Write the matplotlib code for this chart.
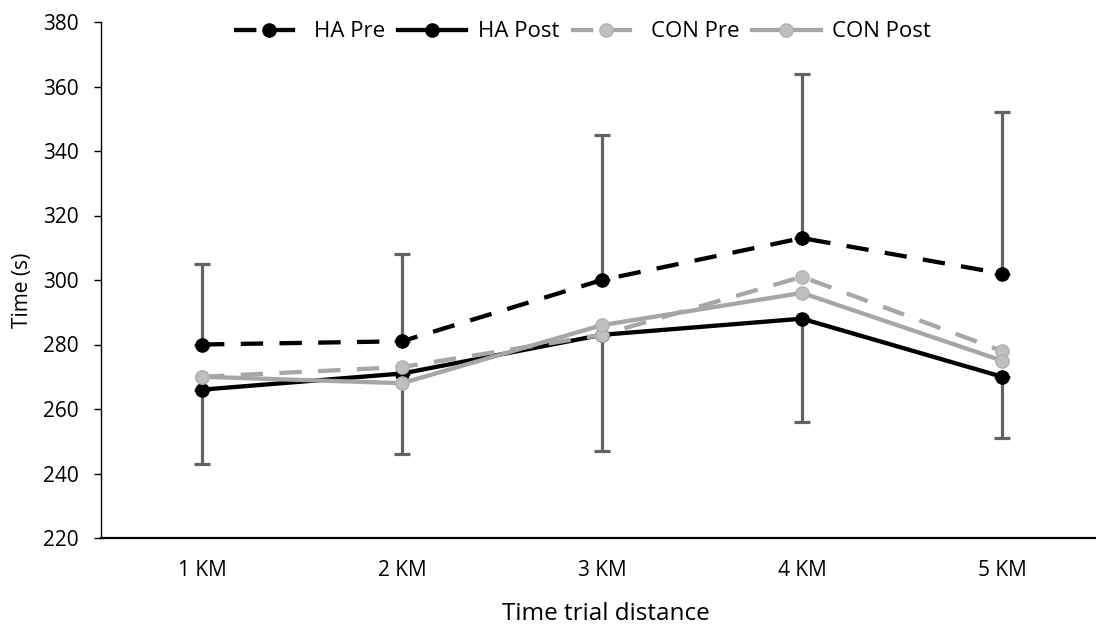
import matplotlib.pyplot as plt

plt.rcParams['font.family'] = ['Open Sans', 'DejaVu Sans']

distances = ['1 KM', '2 KM', '3 KM', '4 KM', '5 KM']
ha_pre = [280, 281, 300, 313, 302]
ha_post = [266, 271, 283, 288, 270]
con_pre = [270, 273, 283, 301, 278]
con_post = [270, 268, 286, 296, 275]
# error bars: upward from HA Pre, downward from HA Post
ha_pre_err_up = [25, 27, 45, 51, 50]
ha_post_err_down = [23, 25, 36, 32, 19]

x = range(len(distances))

fig = plt.figure(figsize=(10.96, 6.24), dpi=100)
ax = fig.add_axes([101 / 1096, 86 / 624, 1 - 101 / 1096, 516 / 624])

err_style = dict(fmt='none', ecolor='#636363', elinewidth=2.3, capsize=5.5, capthick=2.3, zorder=1)
ax.errorbar(x, ha_pre, yerr=[[0] * 5, ha_pre_err_up], **err_style)
ax.errorbar(x, ha_post, yerr=[ha_post_err_down, [0] * 5], **err_style)

dash = (0, (5.2, 3.8))
ax.plot(x, ha_pre, color='black', lw=3.1, ls=dash, marker='o', ms=9.5,
        label='HA Pre', zorder=3)
ax.plot(x, ha_post, color='black', lw=3.1, marker='o', ms=9.5, label='HA Post', zorder=3)
ax.plot(x, con_pre, color='#a6a6a6', lw=3.1, ls=dash, marker='o', ms=9.5,
        mfc='#bfbfbf', mec='#b0b0b0', label='CON Pre', zorder=4)
ax.plot(x, con_post, color='#a6a6a6', lw=3.1, marker='o', ms=9.5,
        mfc='#bfbfbf', mec='#b0b0b0', label='CON Post', zorder=4)

ax.set_xlim(-0.505, (1096 - 202) / 200)
ax.set_ylim(220, 380)
ax.set_yticks(range(220, 381, 20))
ax.set_xticks(list(x))
ax.set_xticklabels(distances)
ax.tick_params(axis='x', length=0, pad=16, labelsize=15)
ax.tick_params(axis='y', length=5, width=1, labelsize=15, pad=11)
ax.spines['top'].set_visible(False)
ax.spines['right'].set_visible(False)
ax.spines['left'].set_linewidth(1)
ax.spines['bottom'].set_linewidth(1.6)

ax.set_xlabel('Time trial distance', fontsize=17.5, va='center')
ax.xaxis.set_label_coords(0.5075, -0.147)
ax.set_ylabel('Time (s)', fontsize=15, va='center')
ax.yaxis.set_label_coords(-0.079, 0.48)

ax.legend(loc='center', bbox_to_anchor=(0.484, 0.981), ncol=4, frameon=False,
          fontsize=16, handlelength=3.1, handletextpad=0.5, columnspacing=0.55)

plt.savefig('out.png', dpi=100)
